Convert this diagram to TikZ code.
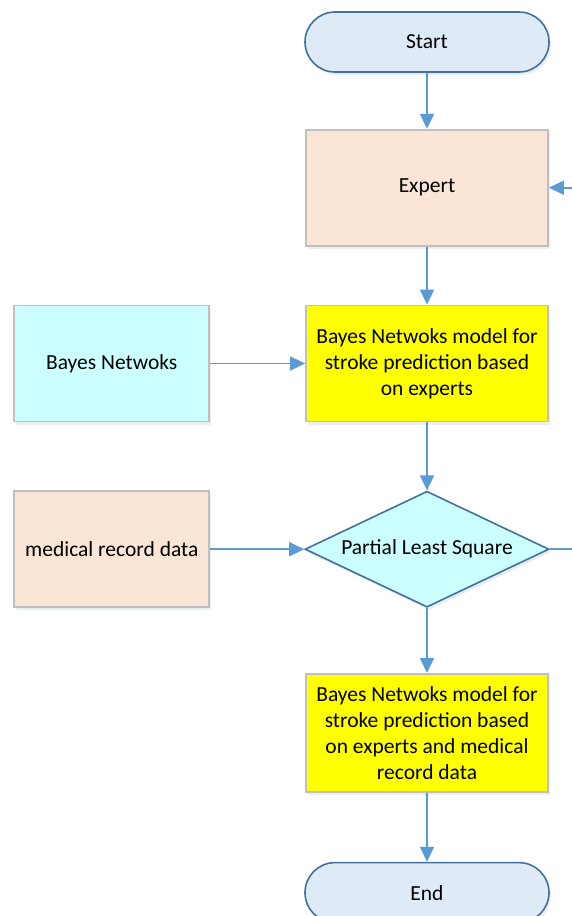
\documentclass[tikz,border=0pt]{standalone}
\usepackage{fontspec}
\setmainfont{Carlito}
\usetikzlibrary{shapes.geometric,shapes.misc,positioning,arrows.meta,shadows}

\definecolor{termfill}{HTML}{DEEBF7}
\definecolor{termline}{HTML}{41719C}
\definecolor{peach}{HTML}{FBE5D6}
\definecolor{aqua}{HTML}{CCFFFF}
\definecolor{lemon}{HTML}{FFFF00}
\definecolor{boxline}{HTML}{BFBFBF}
\definecolor{flowblue}{HTML}{5B9BD5}

\tikzset{
	soft/.style={drop shadow={shadow xshift=2pt, shadow yshift=-3pt, opacity=0.12, fill=termline}},
	terminal/.style={rounded rectangle, draw=termline, line width=1.6pt, fill=termfill,
		minimum width=244pt, minimum height=60pt, inner sep=0pt, soft},
	stepbox/.style={rectangle, draw=boxline, line width=1.8pt, align=center,
		minimum width=242pt, minimum height=116pt, inner sep=0pt, soft},
	inbox/.style={rectangle, draw=boxline, line width=1.8pt, align=center,
		minimum width=195pt, minimum height=116pt, inner sep=0pt, soft},
	decision/.style={diamond, draw=termline, line width=1.6pt, fill=aqua, shape aspect=2.3,
		minimum width=244pt, minimum height=116pt, inner sep=0pt, soft},
	link/.style={draw=flowblue, line width=1.8pt},
	flow/.style={link, -{Triangle[length=15pt,width=14pt]}}
}

\begin{document}
\begin{tikzpicture}[x=1pt, y=1pt, font=\fontsize{21.5}{26}\selectfont]
	\useasboundingbox (0,0) rectangle (572,-916);
	\node[terminal] (start) at (427,-42) {Start};
	\node[stepbox, fill=peach, below=56pt of start] (expert) {Expert};
	\node[stepbox, fill=lemon, below=58pt of expert] (bnexp)
		{Bayes Netwoks model for\\stroke prediction based\\on experts};
	\node[decision, below=68pt of bnexp] (pls) {Partial Least Square};
	\node[stepbox, fill=lemon, minimum height=118pt, below=65pt of pls] (bnfull)
		{Bayes Netwoks model for\\stroke prediction based\\on experts and medical\\record data};
	\node[terminal, below=69pt of bnfull] (end) {End};
	% inputs on the left
	\node[inbox, fill=aqua, left=95pt of bnexp] (bayes) {Bayes Netwoks};
	\node[inbox, fill=peach, left=94pt of pls] (medical) {medical record data};
	% page edge, where the loop back to Expert runs out of view
	\coordinate (edge) at (572,0);

	\draw[flow] (start) -- (expert);
	\draw[flow] (expert) -- (bnexp);
	\draw[flow] (bnexp) -- (pls);
	\draw[flow] (pls) -- (bnfull);
	\draw[flow] (bnfull) -- (end);
	\draw[flow] (bayes) -- (bnexp);
	\draw[flow] (medical) -- (pls);
	\draw[link] (pls.east) -- (pls.east -| edge);
	\draw[flow] (expert.east -| edge) -- (expert.east);
\end{tikzpicture}
\end{document}
